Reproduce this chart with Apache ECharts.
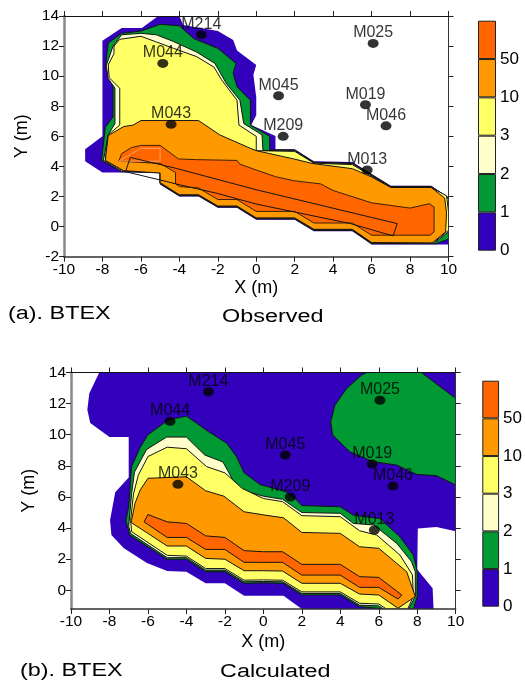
<!DOCTYPE html>
<html><head><meta charset="utf-8">
<style>html,body{margin:0;padding:0;background:#fff}#c{width:525px;height:682px}</style>
<script src="https://cdn.jsdelivr.net/npm/echarts@6/dist/echarts.min.js"></script>
</head><body><div id="c"></div>
<script>
const xTicks=[-10,-8,-6,-4,-2,0,2,4,6,8,10];
const yTicksB=[0,2,4,6,8,10,12,14];
const legendTicks=['0','1','2','3','10','50',''];
const legendBands=[1,1,1,1,1,1];
const wellNames=['M214','M044','M043','M045','M025','M019','M046','M209','M013'];
const wellsA=[[-2.86,12.76],[-4.86,10.85],[-4.43,6.8],[1.16,8.7],[6.08,12.18],[5.68,8.1],[6.75,6.7],[1.4,6],[5.77,3.76]];
const wellsB=[[-2.86,12.76],[-4.85,10.86],[-4.44,6.81],[1.14,8.7],[6.06,12.22],[5.66,8.12],[6.74,6.7],[1.4,6],[5.77,3.88]];

const blueA=[[-8.9,5.15],[-8,6],[-8,12.35],[-7,13.2],[-5.95,13.2],[-5.1,14],[-4,14],[-3.8,13.4],[-2,13],[-1.2,12.4],[-1,11.7],[0,10.75],[-0.15,10.1],[0,8.6],[0,7.4],[-0.26,6.75],[1,6.02],[1,5.15],[2,5.15],[3,4.35],[5,4.3],[7,2.72],[9.1,2.72],[10,1.96],[10,-1.19],[6,-1.19],[5,-0.31],[3,-0.31],[2,0.46],[0,0.46],[-1,1.25],[-2,1.25],[-3,2],[-4,2],[-5,2.8],[-5,3.6],[-8,3.6],[-8.9,4.35]];
const greenA=[[-8.05,4.4],[-7.85,6.6],[-7.45,7.3],[-7.45,9.3],[-7.85,10.6],[-7.7,12.2],[-7,12.85],[-6,13],[-5,13.45],[-4,13.35],[-3.25,12.5],[-2,11.85],[-1.05,10.85],[-1.2,10.2],[-1,9.3],[-0.3,8.4],[-0.3,6.75],[0.7,6],[0.7,5.1],[2,5.1],[3,4.28],[5,4.22],[7,2.67],[9.1,2.67],[10,1.9],[10,-0.46],[10,-0.83],[9.35,-1.14],[6,-1.14],[5,-0.26],[3,-0.26],[2,0.51],[0,0.51],[-1,1.3],[-2,1.3],[-3,2.05],[-4,2.05],[-5,2.85],[-5,3.62],[-7,3.65]];
const creamA=[[-7.95,4.4],[-7.7,6.1],[-7.35,6.85],[-7.35,9.2],[-7.7,9.85],[-7.8,10.7],[-7.45,12],[-7,12.75],[-6,12.85],[-5.2,12.75],[-4.3,12.3],[-3.1,11.6],[-2.15,10.85],[-1.55,9.5],[-0.85,8.4],[-0.65,6.85],[0.3,6.1],[0.35,5.06],[2,5.05],[3,4.25],[5,4.18],[7,2.64],[9.1,2.64],[10,1.85],[10,-0.35],[9.25,-1.12],[6,-1.11],[5,-0.23],[3,-0.23],[2,0.54],[0,0.54],[-1,1.33],[-2,1.33],[-3,2.08],[-4,2.08],[-5,2.88],[-5,3.6],[-7,3.68]];
const yellowA=[[-7.85,4.4],[-7.7,6.1],[-7.1,6.75],[-7.1,9.2],[-7.65,9.9],[-7.7,10.75],[-7.4,11.5],[-7.4,12],[-7.1,12.45],[-6,12.65],[-5.25,12.3],[-4.3,11.85],[-3.1,11.3],[-2.2,10.6],[-1.8,9.75],[-1,8.4],[-0.9,6.75],[0,6],[0,5.05],[2,5],[3,4.22],[5,4.12],[7,2.6],[9.1,2.6],[9.9,2.05],[10,1],[10,-0.25],[9.2,-1.1],[6,-1.08],[5,-0.2],[3,-0.2],[2,0.56],[0,0.56],[-1,1.35],[-2,1.35],[-3,2.1],[-4,2.1],[-5,2.9],[-5,3.58],[-6.9,3.7]];
const orangeA=[[-7.85,4.4],[-7.7,6.05],[-6.9,6.65],[-6.4,6.75],[-6,7.05],[-3,7.05],[-1.9,6.1],[-0.3,5.2],[0,5.05],[1.95,4.5],[2.9,4.2],[5,3.85],[6,3.3],[7,2.6],[9.1,2.6],[9.8,1.9],[9.9,0.9],[9.85,-0.35],[9.15,-1.08],[6,-1.06],[5,-0.18],[3,-0.18],[2,0.58],[0,0.58],[-1,1.37],[-2,1.37],[-3,2.12],[-4,2.12],[-5,2.92],[-5,3.56],[-6.9,3.72]];
const redA=[[-7.15,4.35],[-7,4.85],[-6.5,5.25],[-6,5.4],[-5,5.4],[-4.05,4.5],[-3.1,4.45],[-1,4.4],[-0.85,4.15],[0,3.76],[1,3.32],[1.95,3.05],[3.35,2.84],[4,2.4],[6,1.58],[8,1.23],[9,1.52],[9.25,1.3],[9.25,-0.35],[9.05,-0.57],[6,-0.57],[5,0.24],[3,0.24],[2,1.01],[0,1.01],[-1,1.8],[-2,1.8],[-3,2.57],[-4,2.66],[-4.2,2.85],[-4.2,3.6],[-5,4.2]];
const plumeA=[[-6.8,3.65],[-6.55,4.6],[-4.1,3.85],[0,2.45],[7.33,0.2],[7.12,-0.62],[4.9,0.2],[0,1.5],[-2,2.2],[-3.95,2.77],[-5,3.1],[-6.8,3.65]];
const paleA=[[-7.15,4.35],[-6,5.2],[-5,5.2],[-5,4.35]];

const blueB=[[-8.53,14],[-9.05,12.65],[-9.15,11.6],[-9,10.75],[-8,9.85],[-7,9.85],[-7,7.25],[-7.7,6.3],[-7.97,4.5],[-7.9,3.55],[-7.25,2.7],[-6.05,1.75],[-5,1.25],[-4,1.2],[-3,0.45],[-2,0.45],[-1,-0.35],[1.05,-0.35],[2,-1.2],[8.85,-1.2],[8.8,0.13],[8,1.34],[8.03,3.97],[9,4.07],[10,3.8],[10,14]];
const greenPatchB=[[5.37,14],[8.22,14],[10,12.33],[10,6.77],[9,7.37],[7.97,7.45],[6.93,8.05],[5.7,8.27],[4.5,8.9],[3.6,9.98],[3.5,10.83],[3.72,11.9],[4.33,12.97],[5.1,13.83]];
const greenB=[[-7.15,4.5],[-7,5.38],[-6.85,7.95],[-6.4,9.2],[-6,10],[-4.95,10.95],[-4,11.2],[-2.85,10.2],[-1.9,9.45],[-1.4,8.6],[-1,7.55],[-0.17,6.8],[1.13,6.35],[1.65,5.9],[2,5.45],[4,5.37],[4.68,4.83],[6.06,4.62],[7.1,3.44],[7.8,2.27],[8,1.2],[8,-0.4],[7.8,-1.2],[6.4,-1.2],[5,-1.05],[4,-0.3],[2,-0.3],[1.05,0.45],[0,0.48],[-1,0.45],[-2,1.2],[-3,1.2],[-4,2],[-5,2],[-6.95,3.55]];
const creamB=[[-7,4.1],[-6.85,6.2],[-6.7,7.6],[-6.07,9.05],[-5.03,9.85],[-4,9.85],[-3.05,8.7],[-2.1,8.25],[-1.5,6.9],[-1,6.4],[0,6.05],[1,5.85],[2,5],[4,4.95],[4.68,4.3],[5.75,4.2],[6.95,3],[7.7,1.85],[7.9,1.2],[7.9,-0.4],[7.55,-1.2],[6.25,-1.2],[6,-1],[5,-0.95],[4,-0.2],[2,-0.2],[1,0.55],[0,0.57],[-1,0.55],[-2,1.3],[-3,1.3],[-4,2.1],[-5,2.1],[-6.9,3.65]];
const yellowB=[[-6.9,4.5],[-6.75,6.2],[-6.5,7.4],[-6,8.6],[-5,9.2],[-4,9.1],[-2.95,7.95],[-2,7.55],[-1.1,6.55],[0,5.9],[1,5.7],[2,4.8],[4,4.73],[5,3.83],[5.9,3.55],[7.1,2.27],[7.75,1],[7.8,-0.4],[7.5,-1.2],[6.4,-1.2],[6,-0.88],[5,-0.83],[4,-0.1],[2,-0.1],[1,0.65],[0,0.67],[-1,0.65],[-2,1.4],[-3,1.4],[-4,2.2],[-5,2.25],[-6.85,3.77]];
const orangeB=[[-6.85,4.5],[-6.67,5.6],[-6.4,6.45],[-6,7.2],[-4,7.3],[-3,6.4],[-2.05,6.05],[-1,5.05],[0,4.85],[1.05,4.66],[2,3.72],[4,3.66],[5,2.8],[6,2.7],[7.45,1.2],[7.9,-0.4],[7,-1.15],[6,-0.3],[5,-0.24],[4,0.45],[2,0.45],[1,1.24],[0,1.26],[-1,1.26],[-2,2],[-3,2.05],[-4,2.85],[-5,2.85],[-6.85,4.34]];
const redB=[[-6.2,4.4],[-6,4.87],[-5,4.4],[-4,4.3],[-3,3.5],[-2,3.4],[-1,2.55],[0,2.48],[1,2.48],[2,1.67],[4,1.67],[5,0.88],[6,0.83],[7.2,-0.3],[7,-0.56],[6,0.19],[5,0.19],[4,0.98],[2,0.98],[1,1.8],[0,1.8],[-1,1.8],[-2,2.63],[-3,2.63],[-4,3.4],[-5,3.4]];

const C={red:'#ff6600',orange:'#ff9900',yellow:'#ffff66',cream:'#ffffcc',green:'#009933',blue:'#3300bb'};
const INK='#000';
const FONT='"Liberation Sans",Arial,sans-serif';

function shape(points,grid,fill,stroke,closed,width){
  return {type:'custom',coordinateSystem:'cartesian2d',xAxisIndex:grid*2,yAxisIndex:grid*2,
    data:points,encode:{x:0,y:1},silent:true,animation:false,clip:true,
    renderItem(p,api){
      if(p.dataIndex!==0)return null;
      const pts=points.map(q=>api.coord(q));
      return {type:closed?'polygon':'polyline',shape:{points:pts},
        style:{fill:closed?fill:'none',stroke:stroke||'none',lineWidth:width||1,lineJoin:'round'}};
    }};
}
function wells(data,grid){
  return {type:'scatter',xAxisIndex:grid*2,yAxisIndex:grid*2,z:10,silent:true,animation:false,
    symbol:'circle',symbolSize:[11,9],itemStyle:{color:'#000'},
    data:data.map((d,i)=>({value:d,name:wellNames[i]})),
    label:{show:true,position:'top',distance:-2,formatter:'{b}',color:INK,fontFamily:FONT,fontSize:16}};
}
function xAxes(g){
  return [
   {gridIndex:g,type:'value',min:-10,max:10,interval:2,z:5,position:'bottom',
    name:'X (m)',nameLocation:'middle',nameGap:g?24:22,nameTextStyle:{fontFamily:FONT,fontSize:18,color:INK},
    axisLine:{onZero:false,lineStyle:{color:'#333',width:1.5}},axisTick:{length:5,lineStyle:{color:'#222'}},splitLine:{show:false},
    axisLabel:{fontFamily:FONT,fontSize:15.5,color:INK,margin:5,formatter:v=>String(v)}},
   {gridIndex:g,type:'value',min:-10,max:10,interval:2,z:5,position:'top',
    axisLine:{onZero:false,lineStyle:{color:'#111',width:1.2}},axisTick:{length:5,lineStyle:{color:'#222'}},splitLine:{show:false},axisLabel:{show:false}}
  ];
}
function yAxes(g,spec){
  const ink={fontFamily:FONT,fontSize:15.5,color:INK,margin:5,formatter:v=>String(v)};
  return [
   Object.assign({gridIndex:g,type:'value',z:5,position:'left',
    name:'Y (m)',nameLocation:'middle',nameGap:33,nameTextStyle:{fontFamily:FONT,fontSize:18,color:INK},
    axisLine:{onZero:false,lineStyle:{color:'#888',width:2.5}},axisTick:Object.assign({length:5,lineStyle:{color:'#222'}},spec.tick),splitLine:{show:false},
    axisLabel:Object.assign(ink,spec.tick)},spec.range),
   Object.assign({gridIndex:g,type:'value',z:5,position:'right',
    axisLine:{onZero:false,lineStyle:{color:'#333',width:1}},axisTick:Object.assign({length:5,lineStyle:{color:'#222'}},spec.tick),splitLine:{show:false},axisLabel:{show:false}},spec.range)
  ];
}
const specA={range:{min:-2,max:14,interval:2},tick:{}};
const specB={range:{min:-1.2,max:14},tick:{customValues:yTicksB}};
const legendColors=[C.blue,C.green,C.cream,C.yellow,C.orange,C.red];
function legendSeries(g){
  return legendBands.map((v,i)=>({type:'bar',stack:'k'+g,xAxisIndex:g*2,yAxisIndex:g*2,barWidth:'100%',silent:true,animation:false,
    data:[v],itemStyle:{color:legendColors[i],borderColor:'#222',borderWidth:1}}));
}
function caption(t,x,y){
  return {type:'text',x,y,scaleX:1.3,style:{text:t,font:'18px '+FONT,fill:INK,textVerticalAlign:'middle'}};
}
const option={
  backgroundColor:'#fff',animation:false,
  grid:[
   {left:64,top:16,width:384.5,height:240.7},
   {left:71,top:372.5,width:384.7,height:236.5},
   {left:478,top:20.7,width:18,height:230},
   {left:482.3,top:380.7,width:17.4,height:226}
  ],
  xAxis:[...xAxes(0),...xAxes(1),
   {gridIndex:2,type:'category',data:['a'],show:false},{gridIndex:2,type:'category',data:['a'],show:false},
   {gridIndex:3,type:'category',data:['a'],show:false},{gridIndex:3,type:'category',data:['a'],show:false}],
  yAxis:[...yAxes(0,specA),...yAxes(1,specB),
   ...[2,3].flatMap(g=>[
    {gridIndex:g,type:'value',min:0,max:6,interval:1,position:'right',axisLine:{show:false},axisTick:{show:false},splitLine:{show:false},
     axisLabel:{fontFamily:FONT,fontSize:17,color:INK,margin:4,formatter:v=>legendTicks[v]}},
    {gridIndex:g,type:'value',min:0,max:6,show:false}])],
  graphic:[caption('(a). BTEX',8,314),caption('Observed',222,317),caption('(b). BTEX',20,671),caption('Calculated',220,672)],
  series:[
   shape(blueA,0,C.blue,null,true),shape(greenA,0,C.green,'#141414',true),shape(creamA,0,C.cream,'#141414',true),
   shape(yellowA,0,C.yellow,'#141414',true),shape(orangeA,0,C.orange,'#141414',true),shape(redA,0,C.red,'#3a2000',true),
   shape(paleA,0,'none','#ffa060',true),shape(plumeA,0,null,'#141414',false),wells(wellsA,0),
   shape(blueB,1,C.blue,null,true),shape(greenPatchB,1,C.green,'#141414',true),shape(greenB,1,C.green,'#141414',true),
   shape(creamB,1,C.cream,'#141414',true),shape(yellowB,1,C.yellow,'#141414',true),shape(orangeB,1,C.orange,'#141414',true),
   shape(redB,1,C.red,'#141414',true),wells(wellsB,1),
   ...legendSeries(2),...legendSeries(3)
  ]
};
const chart=echarts.init(document.getElementById('c'),null,{renderer:'canvas'});
chart.setOption(option);
</script></body></html>
